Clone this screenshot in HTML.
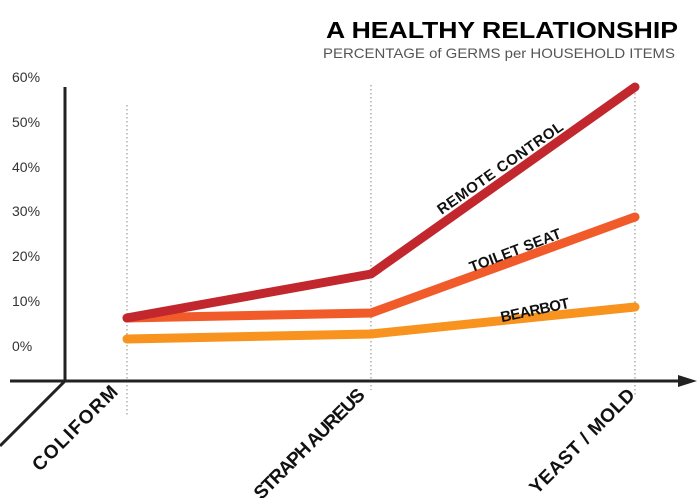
<!DOCTYPE html>
<html><head><style>body{margin:0;background:#fff}svg{display:block}</style></head><body>
<svg width="700" height="498" viewBox="0 0 700 498" xmlns="http://www.w3.org/2000/svg" font-family="Liberation Sans, sans-serif">
<text x="678" y="38" text-anchor="end" font-size="23" font-weight="bold" textLength="352" lengthAdjust="spacingAndGlyphs">A HEALTHY RELATIONSHIP</text>
<text x="675" y="58" text-anchor="end" font-size="14" fill="#555" textLength="352" lengthAdjust="spacingAndGlyphs">PERCENTAGE of GERMS per HOUSEHOLD ITEMS</text>
<g font-size="14" fill="#333">
<text x="12" y="82">60%</text><text x="12" y="127">50%</text><text x="12" y="172">40%</text>
<text x="12" y="216">30%</text><text x="12" y="261">20%</text><text x="12" y="306">10%</text><text x="12" y="351">0%</text>
</g>
<g stroke="#888" stroke-width="1" stroke-dasharray="1.5,2.5">
<line x1="127" y1="105" x2="127" y2="415"/><line x1="371" y1="85" x2="371" y2="390"/><line x1="635" y1="85" x2="635" y2="395"/>
</g>
<g stroke="#222" stroke-width="3" fill="none">
<line x1="65" y1="87" x2="65" y2="382"/>
<line x1="10" y1="381" x2="682" y2="381"/>
<line x1="65" y1="381" x2="0" y2="446"/>
</g>
<polygon points="678,375 697,381 678,387" fill="#222"/>
<g fill="none" stroke-width="9" stroke-linecap="round" stroke-linejoin="round">
<polyline points="127,339 371,334 635,307" stroke="#f7931e"/>
<polyline points="127,318 371,313 635,217" stroke="#f15a29"/>
<polyline points="127,318 371,274 635,87" stroke="#c1272d"/>
</g>
<g font-size="15" font-weight="bold" fill="#111" text-anchor="middle" lengthAdjust="spacingAndGlyphs">
<text transform="translate(503,172) rotate(-35)" textLength="150">REMOTE CONTROL</text>
<text transform="translate(517,255) rotate(-21)" textLength="97">TOILET SEAT</text>
<text transform="translate(536,315) rotate(-12)" textLength="70">BEARBOT</text>
</g>
<g font-size="19" font-weight="bold" fill="#111" text-anchor="end" lengthAdjust="spacingAndGlyphs">
<text transform="translate(119,393) rotate(-45)" textLength="112">COLIFORM</text>
<text transform="translate(366,396) rotate(-45)" textLength="148">STRAPH AUREUS</text>
<text transform="translate(636,396) rotate(-45)" textLength="140">YEAST / MOLD</text>
</g>
</svg>
</body></html>
